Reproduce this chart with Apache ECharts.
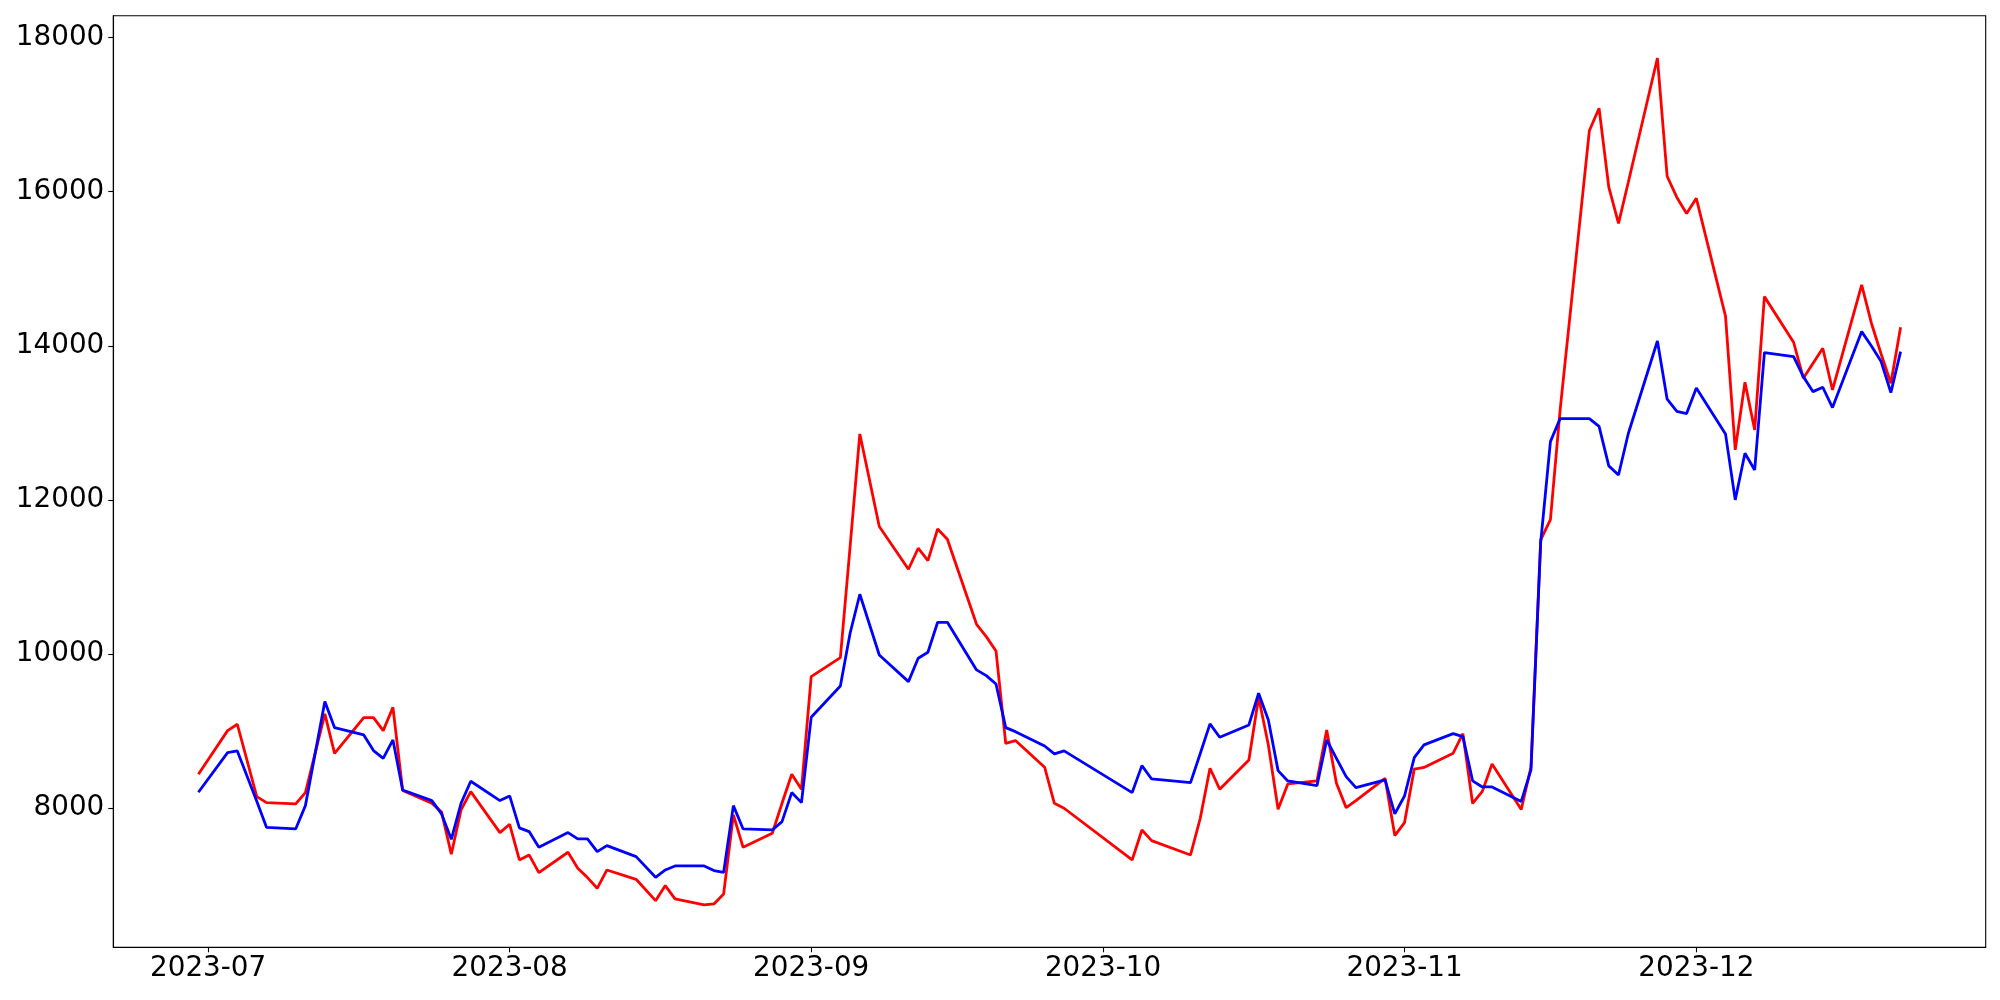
<!DOCTYPE html>
<html>
<head>
<meta charset="utf-8">
<script src="https://cdn.jsdelivr.net/npm/echarts@6/dist/echarts.min.js"></script>
<style>
html,body{margin:0;padding:0;background:#fff;}
#chart{width:2000px;height:1000px;}
</style>
</head>
<body>
<div id="chart"></div>
<script>
const dates = [
 '2023-06-30','2023-07-03','2023-07-04','2023-07-06','2023-07-07','2023-07-10','2023-07-11','2023-07-13','2023-07-14',
 '2023-07-17','2023-07-18','2023-07-19','2023-07-20','2023-07-21','2023-07-24','2023-07-25','2023-07-26','2023-07-27','2023-07-28',
 '2023-07-31','2023-08-01','2023-08-02','2023-08-03','2023-08-04','2023-08-07','2023-08-08','2023-08-09','2023-08-10','2023-08-11',
 '2023-08-14','2023-08-16','2023-08-17','2023-08-18','2023-08-21','2023-08-22','2023-08-23','2023-08-24','2023-08-25',
 '2023-08-28','2023-08-29','2023-08-30','2023-08-31','2023-09-01','2023-09-04','2023-09-05','2023-09-06','2023-09-08',
 '2023-09-11','2023-09-12','2023-09-13','2023-09-14','2023-09-15','2023-09-18','2023-09-19','2023-09-20','2023-09-21','2023-09-22',
 '2023-09-25','2023-09-26','2023-09-27','2023-10-04','2023-10-05','2023-10-06','2023-10-10','2023-10-11','2023-10-12','2023-10-13',
 '2023-10-16','2023-10-17','2023-10-18','2023-10-19','2023-10-20','2023-10-23','2023-10-24','2023-10-25','2023-10-26','2023-10-27',
 '2023-10-30','2023-10-31','2023-11-01','2023-11-02','2023-11-03','2023-11-06','2023-11-07','2023-11-08','2023-11-09','2023-11-10',
 '2023-11-13','2023-11-14','2023-11-15','2023-11-16','2023-11-17','2023-11-20','2023-11-21','2023-11-22','2023-11-23','2023-11-24',
 '2023-11-27','2023-11-28','2023-11-29','2023-11-30','2023-12-01','2023-12-04','2023-12-05','2023-12-06','2023-12-07','2023-12-08',
 '2023-12-11','2023-12-12','2023-12-13','2023-12-14','2023-12-15','2023-12-18','2023-12-19','2023-12-20','2023-12-21','2023-12-22'
];

const redValues = [
 8441,9007,9090,8151,8073,8056,8203,9224,8713,
 9176,9176,9007,9310,8230,8064,7950,7403,7978,8216,
 7684,7792,7329,7394,7165,7429,7221,7100,6961,7199,
 7078,6801,6996,6823,6745,6758,6888,7913,7493,
 7675,8064,8441,8246,9708,9955,11395,12857,11655,
 11101,11374,11213,11624,11490,10387,10227,10041,8843,8878,
 8532,8064,8000,7329,7718,7580,7394,7870,8519,8246,
 8627,9440,8821,7987,8315,8354,9016,8324,8008,8100,
 8389,7645,7814,8508,8530,8715,8967,8062,8219,8574,
 7984,8535,11483,11744,13174,16791,17083,16060,15589,16120,
 17735,16201,15926,15718,15915,14387,12650,13528,12909,14639,
 14047,13580,13775,13969,13428,14791,14294,13895,13515,14242
];

const blueValues = [
 8207,8722,8744,8090,7753,7731,8034,9384,9046,
 8951,8748,8648,8886,8237,8099,7926,7597,8064,8350,
 8099,8160,7745,7697,7493,7684,7602,7602,7437,7515,
 7372,7104,7199,7251,7251,7191,7169,8034,7731,
 7718,7827,8203,8073,9180,9587,10271,10777,9989,
 9643,9946,10024,10413,10413,9795,9721,9613,9046,8994,
 8808,8705,8744,8203,8553,8380,8333,8710,9094,8921,
 9081,9492,9146,8488,8354,8294,8886,8648,8410,8268,
 8367,7926,8159,8657,8822,8968,8929,8356,8276,8276,
 8088,8497,11450,12757,13057,13057,12955,12443,12325,12860,
 14063,13308,13151,13122,13454,12858,12001,12607,12390,13912,
 13861,13601,13406,13463,13199,14185,13999,13796,13393,13925
];

const yTickValues = [8000, 10000, 12000, 14000, 16000, 18000];
const xTickLabels = ['2023-07','2023-08','2023-09','2023-10','2023-11','2023-12'];

function parseDay(s) {
  const p = s.split('-');
  return Date.UTC(+p[0], +p[1] - 1, p.length > 2 ? +p[2] : 1);
}
const xTickValues = xTickLabels.map(parseDay);
const t0 = parseDay(dates[0]);
const t1 = parseDay(dates[dates.length - 1]);
const xPad = (t1 - t0) * 0.05;

const allVals = redValues.concat(blueValues);
const vMin = Math.min.apply(null, allVals);
const vMax = Math.max.apply(null, allVals);
const yPad = (vMax - vMin) * 0.05;

const redData = dates.map((d, i) => [parseDay(d), redValues[i]]);
const blueData = dates.map((d, i) => [parseDay(d), blueValues[i]]);

const font = 'DejaVu Sans';
const chart = echarts.init(document.getElementById('chart'), null, {renderer: 'canvas'});
chart.setOption({
  animation: false,
  backgroundColor: '#ffffff',
  grid: {
    left: 113.3, right: 14.3, top: 15.7, bottom: 52.7,
    containLabel: false,
    show: true, borderColor: '#000000', borderWidth: 1.1, backgroundColor: 'transparent'
  },
  xAxis: {
    type: 'value',
    min: t0 - xPad,
    max: t1 + xPad,
    splitLine: {show: false},
    axisLine: {show: true, onZero: false, lineStyle: {color: '#000000', width: 1.1}},
    axisTick: {show: true, customValues: xTickValues, length: 5, lineStyle: {color: '#000000', width: 1.1}},
    axisLabel: {
      customValues: xTickValues,
      fontFamily: font, fontSize: 27.8, color: '#000000', margin: 7,
      formatter: function (v) {
        const i = xTickValues.indexOf(v);
        return i >= 0 ? xTickLabels[i] : '';
      }
    }
  },
  yAxis: {
    type: 'value',
    min: vMin - yPad,
    max: vMax + yPad,
    splitLine: {show: false},
    axisLine: {show: true, onZero: false, lineStyle: {color: '#000000', width: 1.1}},
    axisTick: {show: true, customValues: yTickValues, length: 5, lineStyle: {color: '#000000', width: 1.1}},
    axisLabel: {
      customValues: yTickValues,
      fontFamily: font, fontSize: 27.8, color: '#000000', margin: 9,
      formatter: function (v) { return String(v); }
    }
  },
  series: [
    {
      name: 'red', type: 'line', data: redData, showSymbol: false, symbol: 'none',
      lineStyle: {color: '#ff0000', width: 2.8}, itemStyle: {color: '#ff0000'}, z: 2
    },
    {
      name: 'blue', type: 'line', data: blueData, showSymbol: false, symbol: 'none',
      lineStyle: {color: '#0000ff', width: 2.8}, itemStyle: {color: '#0000ff'}, z: 3
    }
  ]
});
</script>
</body>
</html>
